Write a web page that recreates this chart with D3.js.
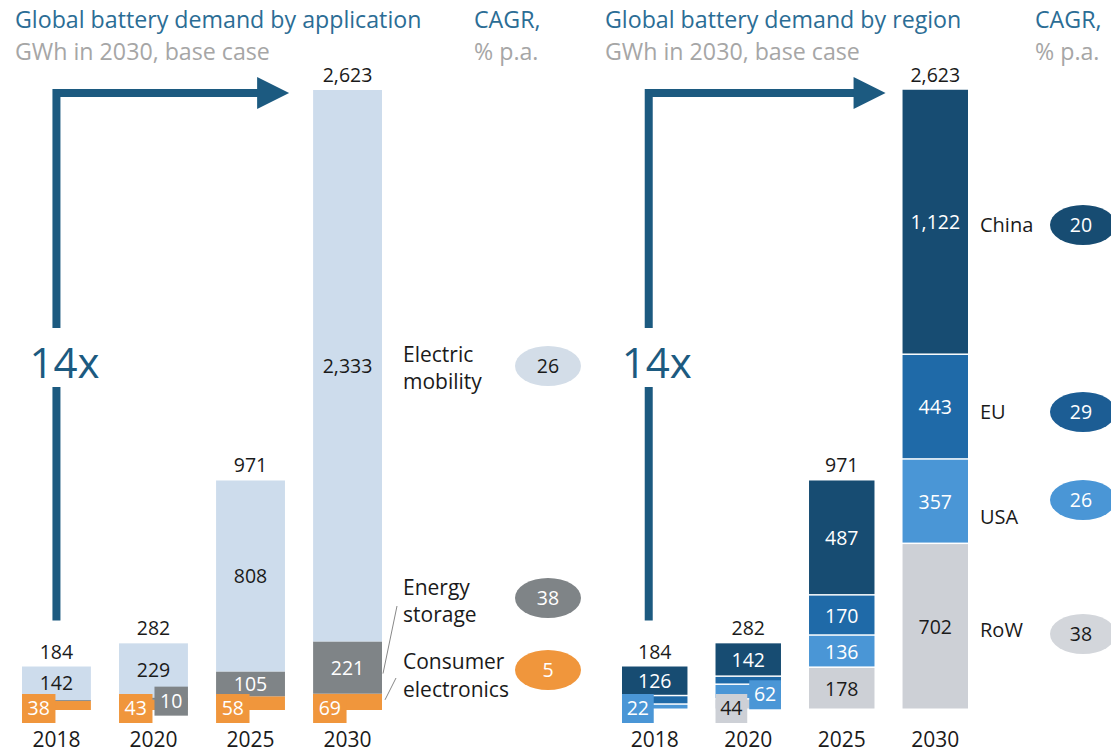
<!DOCTYPE html>
<html><head><meta charset="utf-8">
<script src="https://cdn.jsdelivr.net/npm/d3@7"></script>
<style>
html,body{margin:0;padding:0;background:#fff;}
svg{display:block;font-family:"Open Sans",sans-serif;}
</style></head>
<body>
<svg id="chart" width="1111" height="752"></svg>
<script>
// ---------- data ----------
const years = ["2018", "2020", "2025", "2030"];

// by application (GWh)
const appMobility = [142, 229, 808, 2333];
const appStorage  = [4, 10, 105, 221];
const appConsumer = [38, 43, 58, 69];
const appTotals   = ["184", "282", "971", "2,623"];
const appNames    = ["Consumer electronics", "Energy storage", "Electric mobility"];
const appCagr     = [5, 38, 26];

// by region (GWh)
const regRoW   = [0, 44, 178, 702];
const regUSA   = [22, 62, 136, 357];
const regEU    = [36, 34, 170, 443];
const regChina = [126, 142, 487, 1122];
const regTotals = ["184", "282", "971", "2,623"];
const regNames  = ["RoW", "USA", "EU", "China"];
const regCagr   = [38, 26, 29, 20];

const growthLabel = "14x";

// ---------- drawing ----------
const svg = d3.select("#chart");
const baseY = 710, topY = 90;
const y = d3.scaleLinear().domain([0, 2623]).range([baseY, topY]);
const dark = "#1c5a80";
const valFont = 19.5;

function fmt(v){ return d3.format(",")(v); }

function drawPanel(opts){
  const g = svg.append("g");
  const x = d3.scaleBand().domain(years).range(opts.xRange).paddingInner(opts.pad).paddingOuter(0);
  const bw = x.bandwidth();
  const rows = years.map((yr, i) => {
    const o = {year: yr};
    opts.keys.forEach((k, j) => o[k] = opts.series[j][i]);
    return o;
  });
  const stacked = d3.stack().keys(opts.keys)(rows);

  stacked.forEach((layer, li) => {
    layer.forEach((d, i) => {
      const yr = years[i];
      const y0 = y(d[0]), y1 = y(d[1]);
      const h = y0 - y1;
      if (h <= 0) return;
      g.append("rect")
        .attr("x", x(yr)).attr("width", bw)
        .attr("y", y1).attr("height", Math.max(0, h - (opts.gap || 0)))
        .attr("fill", opts.colors[li]);
    });
  });

  // segment labels
  stacked.forEach((layer, li) => {
    layer.forEach((d, i) => {
      const yr = years[i];
      const v = d[1] - d[0];
      const y0 = y(d[0]), y1 = y(d[1]);
      const h = y0 - y1;
      if (v < 10) return;
      if (h >= 24) {
        g.append("text")
          .attr("x", x(yr) + bw / 2).attr("y", (y0 + y1) / 2 + 7)
          .attr("text-anchor", "middle").attr("font-size", valFont)
          .attr("fill", opts.textColors[li]).text(fmt(v));
      } else if (opts.labelSmall[li]) {
        const bwBox = bw / 2 - 1;
        const atBottom = d[0] === 0;
        const bx = atBottom ? x(yr) : x(yr) + bw - bwBox;
        const cy = atBottom ? baseY - 2 : (y0 + y1) / 2 + 2;
        g.append("rect").attr("x", bx).attr("y", cy - 14)
          .attr("width", bwBox).attr("height", 29).attr("fill", opts.colors[li]);
        g.append("text")
          .attr("x", bx + bwBox / 2).attr("y", cy + 7)
          .attr("text-anchor", "middle").attr("font-size", valFont)
          .attr("fill", opts.textColors[li]).text(fmt(v));
      }
    });
  });

  // totals
  years.forEach((yr, i) => {
    const tot = d3.sum(opts.series, s => s[i]);
    g.append("text").attr("x", x(yr) + bw / 2).attr("y", y(tot) - 8)
      .attr("text-anchor", "middle").attr("font-size", valFont).attr("fill", "#1a1a1a")
      .text(opts.totals[i]);
  });

  // year axis
  const axis = g.append("g").attr("transform", `translate(0,${baseY})`)
    .call(d3.axisBottom(x).tickSize(0).tickPadding(0));
  axis.select(".domain").remove();
  axis.selectAll("text").attr("font-size", 21).attr("fill", "#1a1a1a")
    .attr("font-family", "Open Sans, sans-serif").attr("dy", "1.75em");

  // growth arrow
  const x0 = x(years[0]) + bw / 2 + opts.arrowDx;
  const firstTot = d3.sum(opts.series, s => s[0]);
  const lastLeft = x(years[years.length - 1]);
  const ay = topY + 3;
  const tip = lastLeft - opts.tipGap;
  g.append("path")
    .attr("d", `M${x0},${y(firstTot) - 46} L${x0},${ay} L${tip - 30},${ay}`)
    .attr("fill", "none").attr("stroke", dark).attr("stroke-width", 8)
    .attr("stroke-linejoin", "miter");
  g.append("path")
    .attr("d", `M${tip - 32},${ay - 16} L${tip},${ay} L${tip - 32},${ay + 16} Z`)
    .attr("fill", dark);
  // gap behind label
  g.append("rect").attr("x", x0 - 10).attr("y", 328).attr("width", 20).attr("height", 59).attr("fill", "#fff");
  g.append("text").attr("x", x0 - 27).attr("y", 378).attr("font-size", 42)
    .attr("fill", dark).text(growthLabel);

  // titles
  const tf = 23.2;
  g.append("text").attr("x", opts.titleX).attr("y", 28).attr("font-size", tf)
    .attr("fill", "#2b6d95").text(opts.title);
  g.append("text").attr("x", opts.titleX).attr("y", 60).attr("font-size", tf)
    .attr("fill", "#a6a6a6").text("GWh in 2030, base case");
  g.append("text").attr("x", opts.cagrX).attr("y", 28).attr("font-size", tf)
    .attr("fill", "#2b6d95").text("CAGR,");
  g.append("text").attr("x", opts.cagrX).attr("y", 60).attr("font-size", tf)
    .attr("fill", "#a6a6a6").text("%  p.a.");
  return {x, bw, g};
}

// ---------- left panel ----------
const left = drawPanel({
  xRange: [22, 382], pad: 0.29,
  keys: ["consumer", "storage", "mobility"],
  series: [appConsumer, appStorage, appMobility],
  colors: ["#f0963c", "#7f8487", "#cddcec"],
  textColors: ["#ffffff", "#ffffff", "#1a1a1a"],
  labelSmall: [true, true, true],
  totals: appTotals, gap: 0,
  arrowDx: 0, tipGap: 24,
  title: "Global battery demand by application", titleX: 15, cagrX: 474
});

// application legend + CAGR ovals
const appLabelY = [[662, 690], [588, 615], [355, 382]];
const appOvalY = [670, 598, 366];
const appOvalCol = ["#f0963c", "#7f8487", "#d3dde8"];
const appOvalTxt = ["#ffffff", "#ffffff", "#1a1a1a"];
appNames.forEach((n, i) => {
  const words = n.split(" ");
  words.forEach((w, j) => {
    left.g.append("text").attr("x", 403).attr("y", appLabelY[i][j] + 7)
      .attr("font-size", 21).attr("fill", "#1a1a1a").text(w);
  });
  left.g.append("ellipse").attr("cx", 548).attr("cy", appOvalY[i]).attr("rx", 33).attr("ry", 20)
    .attr("fill", appOvalCol[i]);
  left.g.append("text").attr("x", 548).attr("y", appOvalY[i] + 7).attr("text-anchor", "middle")
    .attr("font-size", valFont).attr("fill", appOvalTxt[i]).text(appCagr[i]);
});
// leader lines
const lx = left.x("2030") + left.bw;
left.g.append("line").attr("x1", lx + 1).attr("y1", y(appConsumer[3] + appStorage[3] / 2) + 6)
  .attr("x2", lx + 15).attr("y2", 606).attr("stroke", "#888").attr("stroke-width", 1);
left.g.append("line").attr("x1", lx + 3).attr("y1", y(appConsumer[3] / 2) - 2)
  .attr("x2", lx + 14).attr("y2", 678).attr("stroke", "#888").attr("stroke-width", 1);

// ---------- right panel ----------
const right = drawPanel({
  xRange: [622, 968], pad: 0.3,
  keys: ["row", "usa", "eu", "china"],
  series: [regRoW, regUSA, regEU, regChina],
  colors: ["#cdd0d6", "#4a96d6", "#1f6aa8", "#174c72"],
  textColors: ["#1a1a1a", "#ffffff", "#ffffff", "#ffffff"],
  labelSmall: [true, true, false, false],
  totals: regTotals, gap: 1.5,
  arrowDx: -6, tipGap: 17,
  title: "Global battery demand by region", titleX: 605, cagrX: 1035
});

const regLabelY = [630, 517, 412, 225];
const regOvalY = [634, 500, 412, 225];
const regOvalCol = ["#d3d6db", "#4a96d6", "#1c5d94", "#174c72"];
const regOvalTxt = ["#1a1a1a", "#ffffff", "#ffffff", "#ffffff"];
regNames.forEach((n, i) => {
  right.g.append("text").attr("x", 980).attr("y", regLabelY[i] + 7)
    .attr("font-size", 20).attr("fill", "#1a1a1a").text(n);
  right.g.append("ellipse").attr("cx", 1083).attr("cy", regOvalY[i]).attr("rx", 33).attr("ry", 20)
    .attr("fill", regOvalCol[i]);
  right.g.append("text").attr("x", 1081).attr("y", regOvalY[i] + 7).attr("text-anchor", "middle")
    .attr("font-size", valFont).attr("fill", regOvalTxt[i]).text(regCagr[i]);
});
</script>
</body></html>
